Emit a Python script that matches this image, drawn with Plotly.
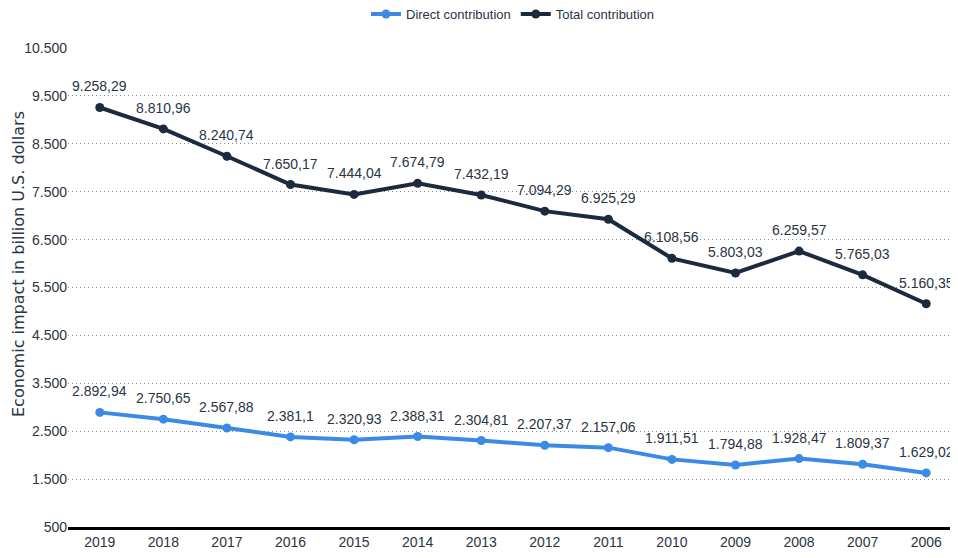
import plotly.graph_objects as go

years = ["2019", "2018", "2017", "2016", "2015", "2014", "2013", "2012", "2011", "2010", "2009", "2008", "2007", "2006"]
direct = [2892.94, 2750.65, 2567.88, 2381.1, 2320.93, 2388.31, 2304.81, 2207.37, 2157.06, 1911.51, 1794.88, 1928.47, 1809.37, 1629.02]
total = [9258.29, 8810.96, 8240.74, 7650.17, 7444.04, 7674.79, 7432.19, 7094.29, 6925.29, 6108.56, 5803.03, 6259.57, 5765.03, 5160.35]
direct_labels = ["2.892,94", "2.750,65", "2.567,88", "2.381,1", "2.320,93", "2.388,31", "2.304,81", "2.207,37", "2.157,06", "1.911,51", "1.794,88", "1.928,47", "1.809,37", "1.629,02"]
total_labels = ["9.258,29", "8.810,96", "8.240,74", "7.650,17", "7.444,04", "7.674,79", "7.432,19", "7.094,29", "6.925,29", "6.108,56", "5.803,03", "6.259,57", "5.765,03", "5.160,35"]
y_ticks = [500, 1500, 2500, 3500, 4500, 5500, 6500, 7500, 8500, 9500, 10500]

FONT = "Liberation Sans, Arial"
TXT = "#2b3444"
C_DIRECT = "#3b8ae6"
C_TOTAL = "#1b2a3d"

fig = go.Figure()
fig.add_trace(go.Scatter(
    x=years, y=direct, name="Direct contribution", mode="lines+markers",
    line=dict(color=C_DIRECT, width=4), marker=dict(size=9, color=C_DIRECT),
))
fig.add_trace(go.Scatter(
    x=years, y=total, name="Total contribution", mode="lines+markers",
    line=dict(color=C_TOTAL, width=4), marker=dict(size=9, color=C_TOTAL),
))

for vals, labs in ((direct, direct_labels), (total, total_labels)):
    for i, (v, t) in enumerate(zip(vals, labs)):
        fig.add_annotation(x=i, y=v, text=t, showarrow=False, yshift=21,
                           font=dict(family=FONT, size=14, color=TXT))

fig.add_annotation(
    xref="paper", yref="paper", x=-0.0562, y=0.549, xanchor="center", yanchor="middle",
    text="Economic impact in billion U.S. dollars", textangle=-90, showarrow=False,
    font=dict(family="DejaVu Sans, Liberation Sans", size=16, color=TXT),
)

fig.update_layout(
    width=950, height=550,
    margin=dict(l=60, r=0, t=40, b=31, autoexpand=False),
    paper_bgcolor="white", plot_bgcolor="white",
    font=dict(family=FONT, size=14, color=TXT),
    separators=",.",
    legend=dict(orientation="h", x=0.5, xanchor="center", yref="container", y=0.989,
                yanchor="middle", font=dict(family=FONT, size=13, color=TXT),
                itemwidth=30),
    showlegend=True,
)
fig.update_xaxes(
    type="category", range=[-0.5, len(years) - 0.5], showgrid=False,
    showline=True, linecolor="black", linewidth=3, automargin=False,
    ticks="", tickfont=dict(family=FONT, size=14, color=TXT),
)
fig.update_yaxes(
    range=[500, 10500], tickvals=y_ticks, tickformat=",d", automargin=False,
    showgrid=True, gridcolor="#8a8a8a", griddash="1px,3px", gridwidth=1,
    zeroline=False, showline=False, ticks="",
    tickfont=dict(family=FONT, size=14, color=TXT),
)

fig.write_html("out.html")
